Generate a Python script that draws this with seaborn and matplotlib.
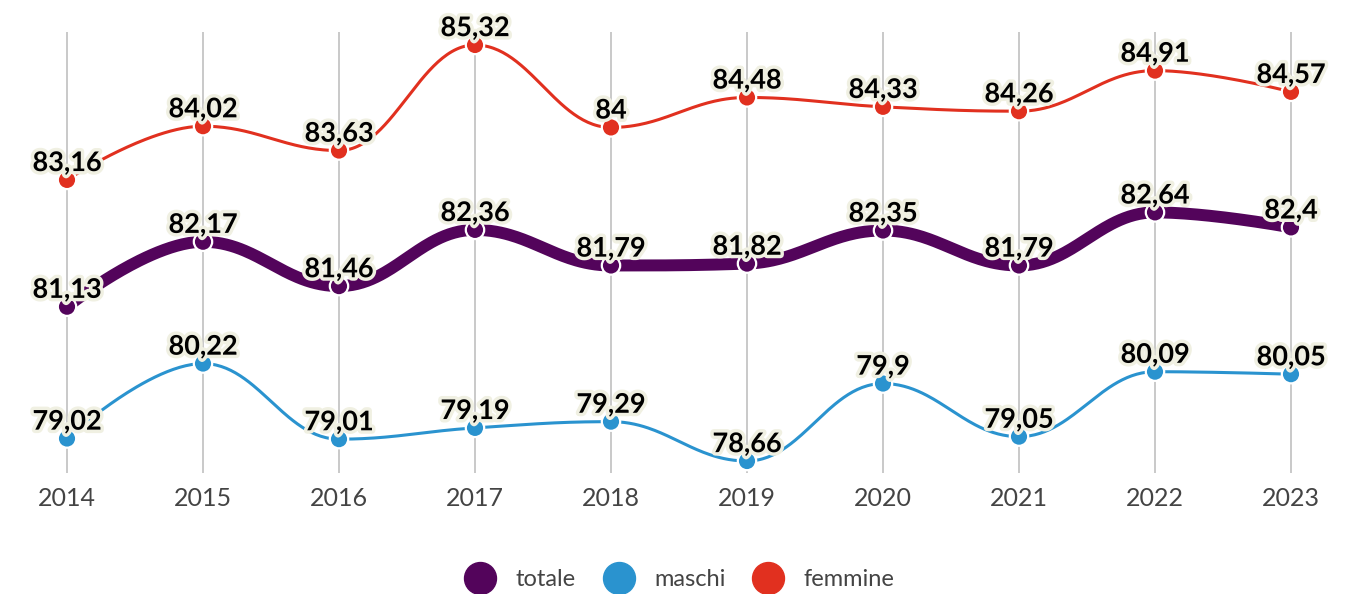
import numpy as np
import pandas as pd
import matplotlib
matplotlib.use("Agg")
import matplotlib.pyplot as plt
import seaborn as sns
from matplotlib import patheffects as pe
from matplotlib.lines import Line2D

# Life expectancy at birth (years)
years = [2014, 2015, 2016, 2017, 2018, 2019, 2020, 2021, 2022, 2023]
totale = [81.13, 82.17, 81.46, 82.36, 81.79, 81.82, 82.35, 81.79, 82.64, 82.4]
maschi = [79.02, 80.22, 79.01, 79.19, 79.29, 78.66, 79.9, 79.05, 80.09, 80.05]
femmine = [83.16, 84.02, 83.63, 85.32, 84.0, 84.48, 84.33, 84.26, 84.91, 84.57]

series_names = ["totale", "maschi", "femmine"]
series_values = [totale, maschi, femmine]
palette = {"totale": "#53045b", "maschi": "#2a93cf", "femmine": "#e1301f"}
line_widths = {"totale": 8.6, "maschi": 2.2, "femmine": 2.2}


def spline_curve(xs, ys, n=60, smoothing=1.5):
    """Smooth path through the points with horizontal tangents at local extremes."""
    xs = np.asarray(xs, float)
    ys = np.asarray(ys, float)
    m = len(xs)
    denom = smoothing + 1
    left = np.zeros((m, 2))
    right = np.zeros((m, 2))
    for i in range(m):
        px, py = xs[i], ys[i]
        if i == 0 or i == m - 1:
            left[i] = right[i] = (px, py)
            continue
        lx, ly = xs[i - 1], ys[i - 1]
        nx, ny = xs[i + 1], ys[i + 1]
        lcx = (smoothing * px + lx) / denom
        lcy = (smoothing * py + ly) / denom
        rcx = (smoothing * px + nx) / denom
        rcy = (smoothing * py + ny) / denom
        corr = (rcy - lcy) * (rcx - px) / (rcx - lcx) + py - rcy
        lcy += corr
        rcy += corr
        if lcy > ly and lcy > py:
            lcy = max(ly, py)
            rcy = 2 * py - lcy
        elif lcy < ly and lcy < py:
            lcy = min(ly, py)
            rcy = 2 * py - lcy
        if rcy > ny and rcy > py:
            rcy = max(ny, py)
            lcy = 2 * py - rcy
        elif rcy < ny and rcy < py:
            rcy = min(ny, py)
            lcy = 2 * py - rcy
        left[i] = (lcx, lcy)
        right[i] = (rcx, rcy)
    t = np.linspace(0, 1, n)[:, None]
    pts = []
    for i in range(1, m):
        p0 = np.array([xs[i - 1], ys[i - 1]])
        p1 = right[i - 1]
        p2 = left[i]
        p3 = np.array([xs[i], ys[i]])
        seg = ((1 - t) ** 3) * p0 + 3 * ((1 - t) ** 2) * t * p1 + 3 * (1 - t) * t ** 2 * p2 + t ** 3 * p3
        pts.append(seg if i == 1 else seg[1:])
    pts = np.vstack(pts)
    return pts[:, 0], pts[:, 1]


points = pd.DataFrame(
    [(y, name, v) for name, vals in zip(series_names, series_values) for y, v in zip(years, vals)],
    columns=["anno", "serie", "valore"],
)

sns.set_theme(style="white")
plt.rcParams["font.family"] = ["Lato", "DejaVu Sans"]

fig = plt.figure(figsize=(13.51, 5.94), dpi=100)
ax = fig.add_axes([0, 1 - 473 / 594, 1, 441 / 594])

for name, vals in zip(series_names, series_values):
    cx, cy = spline_curve(years, vals)
    curve = pd.DataFrame({"anno": cx, "valore": cy})
    sns.lineplot(data=curve, x="anno", y="valore", ax=ax, color=palette[name],
                 linewidth=line_widths[name], sort=False, estimator=None,
                 solid_capstyle="round", zorder=3)

sns.scatterplot(data=points, x="anno", y="valore", hue="serie", palette=palette,
                s=175, edgecolor="white", linewidth=1.6, ax=ax, zorder=4, legend=False)

halo = [pe.withStroke(linewidth=5, foreground="#f0f0e2")]
for _, row in points.iterrows():
    txt = f"{row['valore']:g}".replace(".", ",")
    ax.annotate(txt, (row["anno"], row["valore"]), xytext=(0, 3.5), textcoords="offset points",
                ha="center", va="bottom", fontsize=19.5, fontweight="bold", color="#000000",
                family=["Lato", "DejaVu Sans"], path_effects=halo, zorder=6)

ax.set_xlim(2014 - 67 / 136, 2023 + 60 / 136)
ax.set_ylim(78.468, 85.528)
ax.set_xticks(years)
ax.set_xticklabels([str(y) for y in years])
ax.set_yticks([])
ax.set_xlabel("")
ax.set_ylabel("")
ax.grid(axis="x", color="#c0c0c0", linewidth=1.2)
ax.grid(axis="y", visible=False)
ax.set_axisbelow(True)
for s in ax.spines.values():
    s.set_visible(False)
ax.tick_params(axis="x", length=0, pad=10, labelsize=18, labelcolor="#444444")

handles = [Line2D([], [], linestyle="none", marker="o", markersize=23,
                  markerfacecolor=palette[n], markeredgecolor=palette[n]) for n in series_names]
fig.legend(handles, series_names, loc="center", bbox_to_anchor=(0.5, 1 - 580 / 594),
           ncol=3, frameon=False, fontsize=17, handletextpad=0.5, columnspacing=0.8,
           labelcolor="#444444")

fig.savefig("out.png", dpi=100)
